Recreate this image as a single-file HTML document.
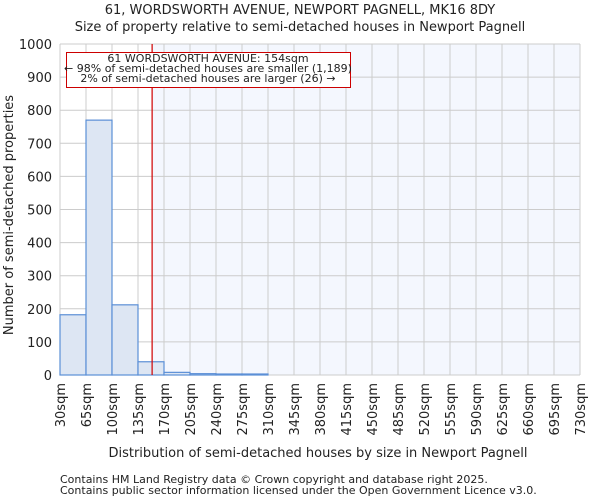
<!DOCTYPE html>
<html><head><meta charset="utf-8"><style>
body{margin:0;background:#fff;font-family:"DejaVu Sans","Liberation Sans",sans-serif}
text{font-family:"DejaVu Sans","Liberation Sans",sans-serif;fill:#222}
</style></head><body>
<svg width="600" height="500">
<g id="g"></g>
</svg>
<script>
const binStarts=[30,65,100,135,170,205,240,275,310,345,380,415,450,485,520,555,590,625,660,695];
const counts=[182,770,212,40,8,4,3,2,0,0,0,0,0,0,0,0,0,0,0,0];
const tickLabels=["30sqm","65sqm","100sqm","135sqm","170sqm","205sqm","240sqm","275sqm","310sqm","345sqm","380sqm","415sqm","450sqm","485sqm","520sqm","555sqm","590sqm","625sqm","660sqm","695sqm","730sqm"];
const yTicks=[0,100,200,300,400,500,600,700,800,900,1000];
const propertySize=154;
const L=60,R=580,T=44,B=375,xmin=30,xmax=730,ymax=1000;
const xs=v=>L+(v-xmin)/(xmax-xmin)*(R-L);
const ys=v=>B-v/ymax*(B-T);
const g=document.getElementById('g');
const NS='http://www.w3.org/2000/svg';
function mk(t,a,txt){const e=document.createElementNS(NS,t);for(const k in a)e.setAttribute(k,a[k]);if(txt!=null)e.textContent=txt;g.appendChild(e);return e;}
let e;
e=mk('text',{x:300,y:14,'text-anchor':'middle','font-size':13},'61, WORDSWORTH AVENUE, NEWPORT PAGNELL, MK16 8DY');


e=mk('text',{x:300,y:31,'text-anchor':'middle','font-size':13},'Size of property relative to semi-detached houses in Newport Pagnell');


e=mk('rect',{x:xs(propertySize),y:T,width:R-xs(propertySize),height:B-T,fill:'#f4f7fe'});


yTicks.forEach(v=>{
 e=mk('line',{x1:L,x2:R,y1:ys(v),y2:ys(v),stroke:'#cccccc'});
 
 
 e=mk('text',{x:L-8,y:ys(v)+5,'text-anchor':'end','font-size':13},String(v));
 
 
});
tickLabels.forEach((t,i)=>{
 const v=xmin+i*35;
 e=mk('line',{x1:xs(v),x2:xs(v),y1:T,y2:B,stroke:'#cccccc'});
 
 
 e=mk('text',{x:0,y:0,'text-anchor':'end','font-size':13,transform:`translate(${xs(v)+5},${B+8}) rotate(-90)`},t);
 
 
});
binStarts.forEach((s,i)=>{
 const x0=xs(s),x1=xs(s+35),h=Math.max(B-ys(counts[i]),counts[i]>0?1:0);
 if(counts[i]<=0)return;
 e=mk('rect',{x:x0,y:B-h,width:x1-x0,height:h,fill:'#dde6f3',stroke:'#5b8fd6','stroke-width':1.2});
 
 
});
e=mk('line',{x1:xs(propertySize),x2:xs(propertySize),y1:T,y2:B,stroke:'#d00000','stroke-width':1.2});


e=mk('rect',{x:66.5,y:52.5,width:284,height:35,fill:'#fff',stroke:'#cc0000'});


[['61 WORDSWORTH AVENUE: 154sqm',62],['← 98% of semi-detached houses are smaller (1,189)',72],['2% of semi-detached houses are larger (26) →',82]].forEach(a=>{
 e=mk('text',{x:208,y:a[1],'text-anchor':'middle','font-size':11},a[0]);
 
 
});
e=mk('text',{x:0,y:0,'text-anchor':'middle','font-size':13,transform:'translate(13,215) rotate(-90)'},'Number of semi-detached properties');


e=mk('text',{x:318,y:457,'text-anchor':'middle','font-size':13},'Distribution of semi-detached houses by size in Newport Pagnell');


e=mk('text',{x:60,y:483,'font-size':11,fill:'#444'},'Contains HM Land Registry data © Crown copyright and database right 2025.');


e=mk('text',{x:60,y:494,'font-size':11,fill:'#444'},'Contains public sector information licensed under the Open Government Licence v3.0.');


</script>
</body></html>
